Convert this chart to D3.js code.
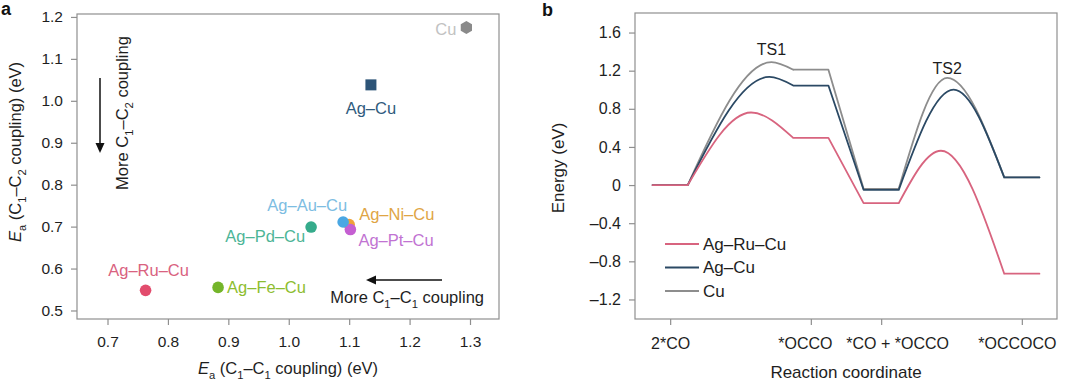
<!DOCTYPE html>
<html>
<head>
<meta charset="utf-8">
<script src="https://cdn.jsdelivr.net/npm/d3@7"></script>
<style>
  body { margin: 0; background: #fff; }
  svg { display: block; }
</style>
</head>
<body>
<div id="chart"></div>
<script>
// ---- panel a: activation barriers ----
const alloys = ["Cu", "Ag–Cu", "Ag–Ni–Cu", "Ag–Pt–Cu", "Ag–Au–Cu", "Ag–Pd–Cu", "Ag–Ru–Cu", "Ag–Fe–Cu"];
const eaC1C1 = [1.294, 1.136, 1.100, 1.102, 1.090, 1.037, 0.763, 0.883];
const eaC1C2 = [1.175, 1.038, 0.705, 0.693, 0.711, 0.699, 0.548, 0.555];
const aXTicks = [0.7, 0.8, 0.9, 1.0, 1.1, 1.2, 1.3];
const aYTicks = [0.5, 0.6, 0.7, 0.8, 0.9, 1.0, 1.1, 1.2];

// ---- panel b: energy profiles ----
const states = ["2*CO", "*OCCO", "*CO + *OCCO", "*OCCOCO"];
const statePos = [0, 2, 3, 5];
const profileNames = ["Cu", "Ag–Cu", "Ag–Ru–Cu"];
const cuStates = [0, 1.21, -0.04, 0.08];
const cuTS = [1.29, 1.124];
const cuTSPos = [1.44, 3.94];
const agCuStates = [0, 1.044, -0.05, 0.08];
const agCuTS = [1.134, 1.002];
const agCuTSPos = [1.41, 4.03];
const agRuCuStates = [0, 0.495, -0.19, -0.93];
const agRuCuTS = [0.761, 0.36];
const agRuCuTSPos = [1.15, 3.85];
const bYTicks = [-1.2, -0.8, -0.4, 0, 0.4, 0.8, 1.2, 1.6];

const font = '"Liberation Sans", Arial, Helvetica, sans-serif';
const frameColor = "#8f8f8f";
const textColor = "#1e1e1e";

const markerColor = {
  "Cu": "#8a8a8a", "Ag–Cu": "#2d5477", "Ag–Ni–Cu": "#efa23a", "Ag–Pt–Cu": "#c55fd2",
  "Ag–Au–Cu": "#4aa7e3", "Ag–Pd–Cu": "#35ab8b", "Ag–Ru–Cu": "#e24c6d", "Ag–Fe–Cu": "#74b52a"
};
const labelColor = {
  "Cu": "#c2c2c2", "Ag–Cu": "#2f5b7e", "Ag–Ni–Cu": "#dfa545", "Ag–Pt–Cu": "#c173d2",
  "Ag–Au–Cu": "#7dbde2", "Ag–Pd–Cu": "#4db597", "Ag–Ru–Cu": "#d9627f", "Ag–Fe–Cu": "#8dbd2f"
};
// label placement relative to the marker: [dx, dy, anchor]
const labelPlace = {
  "Cu": [-10, 2, "end"], "Ag–Cu": [0, 23, "middle"], "Ag–Ni–Cu": [10, -10, "start"],
  "Ag–Pt–Cu": [8, 11, "start"], "Ag–Au–Cu": [4, -17, "end"], "Ag–Pd–Cu": [-6, 9, "end"],
  "Ag–Ru–Cu": [3, -20, "middle"], "Ag–Fe–Cu": [9, 0, "start"]
};
const lineColor = { "Cu": "#8d8d8d", "Ag–Cu": "#2b4964", "Ag–Ru–Cu": "#d8647f" };
// horizontal nudges of the category labels under panel b
const stateLabelShift = [0, -6, 16, -5];

const svg = d3.select("#chart").append("svg")
  .attr("width", 1080).attr("height", 381)
  .style("font-family", font);

// text with subscripts / italics; parts = [{t, sub, it}]
function rich(sel, parts, size) {
  let shifted = false;
  parts.forEach(p => {
    const ts = sel.append("tspan").text(p.t);
    if (p.it) ts.style("font-style", "italic");
    if (p.sub && !shifted) { ts.attr("dy", size * 0.28).style("font-size", (size * 0.68) + "px"); shifted = true; }
    else if (p.sub) ts.style("font-size", (size * 0.68) + "px");
    else if (shifted) { ts.attr("dy", -size * 0.28); shifted = false; }
  });
  return sel;
}

function arrowHead(g, x, y, dir) {
  const pts = dir === "down"
    ? [[x - 4.5, y - 10], [x + 4.5, y - 10], [x, y]]
    : [[x + 10, y - 4.5], [x + 10, y + 4.5], [x, y]];
  g.append("path").attr("d", d3.line()(pts) + "Z").attr("fill", "#111");
}

// ================= panel a =================
const A = { left: 77, right: 499, top: 14, bottom: 319 };
const xa = d3.scaleLinear().domain([0.6495, 1.348]).range([A.left, A.right]);
const ya = d3.scaleLinear().domain([0.4797, 1.207]).range([A.bottom, A.top]);

const ga = svg.append("g");

ga.append("g")
  .attr("transform", `translate(0,${A.bottom})`)
  .call(d3.axisBottom(xa).tickValues(aXTicks).tickFormat(d3.format(".1f")).tickSize(6).tickPadding(11))
  .call(g => g.select(".domain").remove());
ga.append("g")
  .attr("transform", `translate(${A.left},0)`)
  .call(d3.axisLeft(ya).tickValues(aYTicks).tickFormat(d3.format(".1f")).tickSize(6).tickPadding(8))
  .call(g => g.select(".domain").remove());

ga.append("rect")
  .attr("x", A.left).attr("y", A.top)
  .attr("width", A.right - A.left).attr("height", A.bottom - A.top)
  .attr("fill", "none").attr("stroke", frameColor).attr("stroke-width", 1.2);

// markers
const pts = alloys.map((n, i) => ({ name: n, x: eaC1C1[i], y: eaC1C2[i] }));
const hexagon = r => d3.range(6).map(k => {
  const a = Math.PI / 6 + k * Math.PI / 3;
  return [r * Math.cos(a), r * Math.sin(a)];
});
pts.forEach(p => {
  const cx = xa(p.x), cy = ya(p.y);
  if (p.name === "Cu") {
    ga.append("path").attr("d", d3.line()(hexagon(6.5)) + "Z")
      .attr("transform", `translate(${cx},${cy})`).attr("fill", markerColor[p.name]);
  } else if (p.name === "Ag–Cu") {
    ga.append("rect").attr("x", cx - 5.5).attr("y", cy - 5.5).attr("width", 11).attr("height", 11)
      .attr("fill", markerColor[p.name]);
  } else {
    ga.append("circle").attr("cx", cx).attr("cy", cy).attr("r", 5.8).attr("fill", markerColor[p.name]);
  }
  const lp = labelPlace[p.name];
  ga.append("text")
    .attr("x", cx + lp[0]).attr("y", cy + lp[1])
    .attr("dy", "0.35em")
    .attr("text-anchor", lp[2])
    .attr("fill", labelColor[p.name])
    .style("font-size", "16.5px")
    .text(p.name);
});

// arrows and notes
const vArrow = ga.append("g");
vArrow.append("line").attr("x1", 100).attr("x2", 100).attr("y1", 78).attr("y2", 145)
  .attr("stroke", "#111").attr("stroke-width", 1.5);
arrowHead(vArrow, 100, 153, "down");
rich(ga.append("text")
  .attr("transform", "translate(128,113) rotate(-90)")
  .attr("text-anchor", "middle").attr("fill", textColor).style("font-size", "16.5px"),
  [{ t: "More C" }, { t: "1", sub: true }, { t: "–C" }, { t: "2", sub: true }, { t: " coupling" }], 16.5);

const hArrow = ga.append("g");
hArrow.append("line").attr("x1", 442).attr("x2", 374).attr("y1", 280).attr("y2", 280)
  .attr("stroke", "#111").attr("stroke-width", 1.5);
arrowHead(hArrow, 366, 280, "left");
rich(ga.append("text")
  .attr("x", 484).attr("y", 303)
  .attr("text-anchor", "end").attr("fill", textColor).style("font-size", "16.5px"),
  [{ t: "More C" }, { t: "1", sub: true }, { t: "–C" }, { t: "1", sub: true }, { t: " coupling" }], 16.5);

// axis titles
rich(ga.append("text")
  .attr("x", (A.left + A.right) / 2).attr("y", 374)
  .attr("text-anchor", "middle").attr("fill", textColor).style("font-size", "16.5px"),
  [{ t: "E", it: true }, { t: "a", sub: true }, { t: " (C" }, { t: "1", sub: true }, { t: "–C" }, { t: "1", sub: true }, { t: " coupling) (eV)" }], 16.5);
rich(ga.append("text")
  .attr("transform", "translate(21,152) rotate(-90)")
  .attr("text-anchor", "middle").attr("fill", textColor).style("font-size", "16.5px"),
  [{ t: "E", it: true }, { t: "a", sub: true }, { t: " (C" }, { t: "1", sub: true }, { t: "–C" }, { t: "2", sub: true }, { t: " coupling) (eV)" }], 16.5);

svg.append("text").attr("x", 1).attr("y", 15).style("font-size", "18px").style("font-weight", "bold")
  .attr("fill", "#111").text("a");

// ================= panel b =================
const B = { left: 635, right: 1057, top: 13, bottom: 319 };
const xb = d3.scaleLinear().domain([-0.5, 5.5]).range([B.left, B.right]);
const yb = d3.scaleLinear().domain([-1.405, 1.805]).range([B.bottom, B.top]);

const gb = svg.append("g");
gb.append("g")
  .attr("transform", `translate(0,${B.bottom})`)
  .call(d3.axisBottom(xb).tickValues(statePos).tickFormat((d, i) => states[i]).tickSize(6).tickPadding(13))
  .call(g => g.select(".domain").remove())
  .call(g => g.selectAll(".tick text").attr("dx", (d, i) => stateLabelShift[i]));
gb.append("g")
  .attr("transform", `translate(${B.left},0)`)
  .call(d3.axisLeft(yb).tickValues(bYTicks)
    .tickFormat(d => d === 0 ? "0" : (d < 0 ? "–" : "") + d3.format(".1f")(Math.abs(d)))
    .tickSize(6).tickPadding(8))
  .call(g => g.select(".domain").remove());

ga.selectAll(".tick text").style("font-size", "15.5px");
gb.selectAll(".tick text").style("font-size", "16px");
[ga, gb].forEach(g => {
  g.selectAll(".tick line").attr("stroke", frameColor).attr("stroke-width", 1.2);
  g.selectAll(".tick text").attr("fill", textColor).style("font-family", font);
});

gb.append("rect")
  .attr("x", B.left).attr("y", B.top)
  .attr("width", B.right - B.left).attr("height", B.bottom - B.top)
  .attr("fill", "none").attr("stroke", frameColor).attr("stroke-width", 1.2);

// profile path: flat plateaus at each state, smooth barriers through the TS
const half = 0.25;
const straight = d3.line().x(d => xb(d[0])).y(d => yb(d[1]));
const smooth = d3.line().x(d => xb(d[0])).y(d => yb(d[1])).curve(d3.curveMonotoneX);
function profilePath(st, ts, tsPos) {
  const p = statePos;
  return straight([[p[0] - half, st[0]], [p[0] + half, st[0]]]) +
    smooth([[p[0] + half, st[0]], [tsPos[0], ts[0]], [p[1] - half, st[1]]]) +
    straight([[p[1] - half, st[1]], [p[1] + half, st[1]], [p[2] - half, st[2]], [p[2] + half, st[2]]]) +
    smooth([[p[2] + half, st[2]], [tsPos[1], ts[1]], [p[3] - half, st[3]]]) +
    straight([[p[3] - half, st[3]], [p[3] + half, st[3]]]);
}
const profiles = {
  "Cu": [cuStates, cuTS, cuTSPos],
  "Ag–Cu": [agCuStates, agCuTS, agCuTSPos],
  "Ag–Ru–Cu": [agRuCuStates, agRuCuTS, agRuCuTSPos]
};
profileNames.forEach(n => {
  const [st, ts, tp] = profiles[n];
  gb.append("path").attr("d", profilePath(st, ts, tp))
    .attr("fill", "none").attr("stroke", lineColor[n]).attr("stroke-width", 1.8)
    .attr("stroke-linejoin", "round").attr("stroke-linecap", "round");
});

// TS labels above the Cu peaks
gb.append("text").attr("x", xb(cuTSPos[0])).attr("y", yb(cuTS[0]) - 7)
  .attr("text-anchor", "middle").attr("fill", textColor).style("font-size", "16px").text("TS1");
gb.append("text").attr("x", xb(cuTSPos[1])).attr("y", yb(cuTS[1]) - 4)
  .attr("text-anchor", "middle").attr("fill", textColor).style("font-size", "16px").text("TS2");

// legend
const legendOrder = ["Ag–Ru–Cu", "Ag–Cu", "Cu"];
legendOrder.forEach((n, i) => {
  const y = 244 + i * 23.5;
  gb.append("line").attr("x1", 665).attr("x2", 699).attr("y1", y).attr("y2", y)
    .attr("stroke", lineColor[n]).attr("stroke-width", 1.8);
  gb.append("text").attr("x", 703).attr("y", y).attr("dy", "0.35em")
    .attr("fill", textColor).style("font-size", "17px").text(n);
});

gb.append("text").attr("transform", "translate(564,168) rotate(-90)")
  .attr("text-anchor", "middle").attr("fill", textColor).style("font-size", "17px").text("Energy (eV)");
gb.append("text").attr("x", (B.left + B.right) / 2).attr("y", 378)
  .attr("text-anchor", "middle").attr("fill", textColor).style("font-size", "17px").text("Reaction coordinate");

svg.append("text").attr("x", 542).attr("y", 16).style("font-size", "18px").style("font-weight", "bold")
  .attr("fill", "#111").text("b");
</script>
</body>
</html>
